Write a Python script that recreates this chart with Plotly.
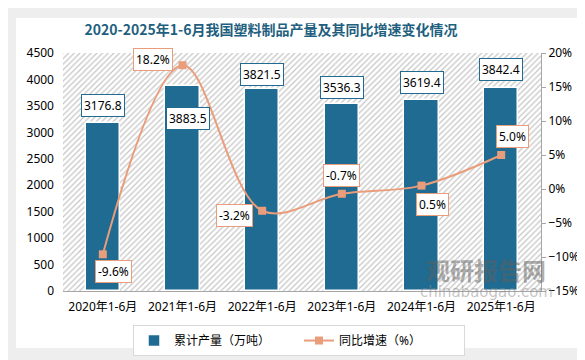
import plotly.graph_objects as go

categories = ["2020年1-6月", "2021年1-6月", "2022年1-6月", "2023年1-6月", "2024年1-6月", "2025年1-6月"]
production = [3176.8, 3883.5, 3821.5, 3536.3, 3619.4, 3842.4]
growth = [-9.6, 18.2, -3.2, -0.7, 0.5, 5.0]
title_text = "2020-2025年1-6月我国塑料制品产量及其同比增速变化情况"
bar_name = "累计产量（万吨）"
line_name = "同比增速（%）"

BAR_COLOR = "#1f6b91"
LINE_COLOR = "#e99d7b"
FONT = "Noto Sans, Noto Sans CJK SC, sans-serif"
Y1_MAX = 4500

W, H = 585, 360
ML, MR, MT, MB = 55, 52, 45, 77

fig = go.Figure()

# hatched plot-area background
fig.add_trace(go.Bar(
    x=categories, y=[Y1_MAX] * len(categories), width=1.0,
    marker=dict(color="#c8c8c8", line=dict(width=0),
                pattern=dict(shape="/", fgcolor="#c6c6c6", bgcolor="white", size=4,
                             solidity=0.3, fillmode="replace")),
    showlegend=False, hoverinfo="skip"))

fig.add_trace(go.Bar(
    x=categories, y=production, name=bar_name, width=0.43,
    marker=dict(color=BAR_COLOR, line=dict(color="white", width=1.5))))

fig.add_trace(go.Scatter(
    x=categories, y=growth, name=line_name, yaxis="y2", mode="lines+markers",
    line=dict(color=LINE_COLOR, width=2, shape="spline", smoothing=1.0),
    marker=dict(symbol="square", size=8, color=LINE_COLOR)))

annotations = []
# bar labels
bar_label_shift = [(0, 6), (5, -21), (0, 3), (0, 5), (0, 6), (0, 7)]
for c, v, (dx, dy) in zip(categories, production, bar_label_shift):
    annotations.append(dict(
        x=c, y=v, xref="x", yref="y", text=f"{v:.1f}", showarrow=False,
        yanchor="top" if dy < 0 else "bottom", xshift=dx, yshift=dy,
        font=dict(size=12, color="black", family=FONT),
        bgcolor="white", bordercolor=BAR_COLOR, borderwidth=1, borderpad=2))
# line labels
line_label_shift = [(11, -17), (-30, 6), (-28, -5), (0, 18), (11, -19), (11, 19)]
for c, v, (dx, dy) in zip(categories, growth, line_label_shift):
    annotations.append(dict(
        x=c, y=v, xref="x", yref="y2", text=f"{v:.1f}%", showarrow=False,
        xshift=dx, yshift=dy,
        font=dict(size=12, color="black", family=FONT),
        bgcolor="white", bordercolor=LINE_COLOR, borderwidth=1, borderpad=2))
# watermark (pixel-positioned in paper coordinates)
PW, PH = W - ML - MR, H - MT - MB
annotations.append(dict(
    x=(478 - ML) / PW, y=(H - MB - 261) / PH, xref="paper", yref="paper",
    text="<b>观研报告网</b>", showarrow=False, xanchor="center", yanchor="middle",
    font=dict(size=24, color="rgba(95,95,95,0.5)", family="Noto Sans CJK SC")))
annotations.append(dict(
    x=(478 - ML) / PW, y=(H - MB - 284) / PH, xref="paper", yref="paper",
    text="chinabaogao.com", showarrow=False, xanchor="center", yanchor="middle",
    font=dict(size=15, color="rgba(140,140,140,0.5)", family="DejaVu Sans")))

fig.update_layout(
    width=W, height=H, autosize=False,
    margin=dict(l=ML, r=MR, t=MT, b=MB, autoexpand=False),
    paper_bgcolor="#eeeeee", plot_bgcolor="white",
    barmode="overlay", bargap=0,
    font=dict(family=FONT, size=12, color="black"),
    title=dict(text=f"<b>{title_text}</b>", x=(263 - ML) / PW, xref="paper",
               xanchor="center", y=1 - 22 / H, yref="container", yanchor="middle",
               font=dict(size=14, color="#1f5f80", family="Noto Sans CJK SC")),
    annotations=annotations,
    shapes=[dict(type="rect", xref="paper", yref="paper", layer="below",
                 x0=(8 - ML) / PW, x1=(580 - ML) / PW,
                 y0=(H - MB - 340) / PH, y1=(H - MB - 10) / PH,
                 fillcolor="white", line=dict(width=0))],
    xaxis=dict(range=[-0.5, len(categories) - 0.5], showgrid=False, showline=True,
               linecolor="#a6a6a6", linewidth=1,
               ticks="", tickfont=dict(size=12), ticklabelstandoff=5),
    yaxis=dict(range=[0, Y1_MAX], dtick=500, showgrid=False, showline=False,
               zeroline=False, tickfont=dict(size=12), ticklabelstandoff=8),
    yaxis2=dict(range=[-15, 20], dtick=5, overlaying="y", side="right", showgrid=False,
                zeroline=False, showline=True, linecolor="#a6a6a6", ticks="outside",
                ticklen=4, tickcolor="#a6a6a6", ticksuffix="%", tickfont=dict(size=12)),
    legend=dict(orientation="h", x=(291 - ML) / PW, xanchor="center",
                y=-0.143, yanchor="top",
                bordercolor="#d9d9d9", borderwidth=1, bgcolor="white",
                font=dict(size=12), traceorder="normal", itemwidth=30, entrywidth=120),
    hovermode=False,
)

fig.write_html("out.html")
